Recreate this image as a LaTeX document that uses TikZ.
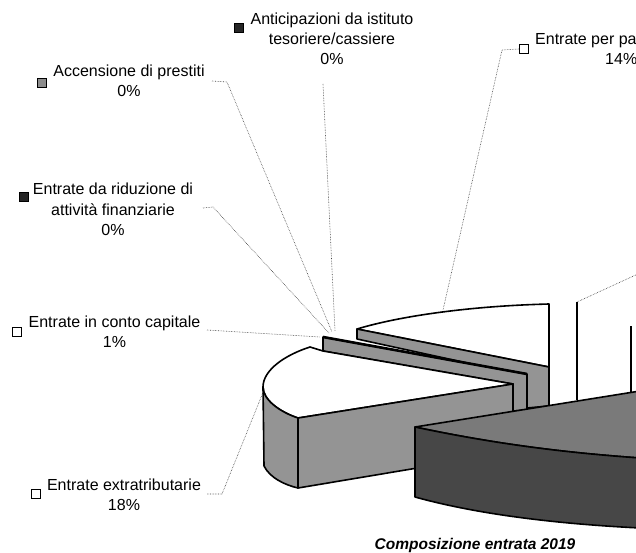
\documentclass[tikz,border=0pt]{standalone}
\usepackage{fontspec}
\setmainfont{Liberation Sans}
\begin{document}
\begin{tikzpicture}[x=1pt,y=-1pt,
  lbl/.style={align=center,anchor=base,inner sep=0pt,font=\fontsize{16}{20}\selectfont},
  mk/.style={draw=black,line width=1.2pt,minimum size=9pt,inner sep=0pt},
  leader/.style={densely dotted,line width=0.6pt,black!75},
  outl/.style={draw=black,line width=1.6pt,line join=round},
  lightface/.style={outl,fill=black!42},
  darkface/.style={outl,fill=black!72},
  midface/.style={outl,fill=black!52},
  topface/.style={outl,fill=white}]
\useasboundingbox (0,0) rectangle (636,553);

% ---------- labels (anchor = baseline of the last line) ----------
\node[lbl] (antic) at (332,65) {Anticipazioni da istituto\\tesoriere/cassiere\\0\%};
\node[lbl] (acc) at (129,97) {Accensione di prestiti\\0\%};
\node[lbl] (rid) at (113,235) {Entrate da riduzione di\\attività finanziarie\\0\%};
\node[lbl] (cap) at (114.5,347) {Entrate in conto capitale\\1\%};
\node[lbl] (extra) at (124,510) {Entrate extratributarie\\18\%};
\node[lbl,anchor=base west] (perpa) at (535,45) {Entrate per pa};
\node[lbl,anchor=base west] (perpapct) at (605,65) {14\%};
\node[anchor=base,inner sep=0pt,font=\fontsize{15.5}{18}\selectfont\bfseries\itshape] (title) at (475,549) {Composizione entrata 2019};

% ---------- legend markers ----------
\node[mk,fill=black!85] (m-antic) at (239,28) {};
\node[mk,fill=black!45] (m-acc) at (42,83) {};
\node[mk,fill=black!85] (m-rid) at (24,197) {};
\node[mk,fill=white] (m-cap) at (17,332) {};
\node[mk,fill=white] (m-extra) at (36,494) {};
\node[mk,fill=white] (m-perpa) at (524,49) {};

% ---------- leader lines ----------
\coordinate (antic-a) at (323,84);
\coordinate (antic-b) at (335,331);
\coordinate (acc-a) at (212,81);
\coordinate (acc-k) at (227,82);
\coordinate (acc-b) at (332,332);
\coordinate (rid-a) at (203,208);
\coordinate (rid-k) at (213,207);
\coordinate (rid-b) at (329,333);
\coordinate (cap-a) at (207,330);
\coordinate (cap-b) at (320,337);
\coordinate (extra-a) at (207,494);
\coordinate (extra-k) at (222,494);
\coordinate (extra-b) at (264,390);
\coordinate (perpa-k) at (502,50);
\coordinate (perpa-b) at (443,310);
\coordinate (right-a) at (577,302);
\coordinate (right-b) at (640,273);

\draw[leader] (antic-a) -- (antic-b);
\draw[leader] (acc-a) -- (acc-k) -- (acc-b);
\draw[leader] (rid-a) -- (rid-k) -- (rid-b);
\draw[leader] (cap-a) -- (cap-b);
\draw[leader] (extra-a) -- (extra-k) -- (extra-b);
\draw[leader] (m-perpa.west) -- (perpa-k) -- (perpa-b);
\draw[leader] (right-a) -- (right-b);

% ---------- pie slices ----------
\begin{scope}
\clip (0,0) rectangle (636,553);
% right white slice edges
\draw[outl] (577,302) -- (577,400);
\draw[outl] (631,326) -- (631,392);
% partite di giro: top and side
\draw[topface] (357,329) .. controls (400,316) and (470,306) .. (549,304) -- (549,367) -- cycle;
\draw[lightface] (357,329) -- (549,367) -- (549,406) -- (527,408) -- (527,376) -- (357,339) -- cycle;
% conto capitale (thin) with 0% slices on top
\draw[lightface] (323,337) -- (527,374) -- (527,410) -- (513,411) -- (513,384) -- (323,351) -- cycle;
\draw[line width=2.6pt] (323,337) -- (527,374);
% extratributarie
\draw[topface] (298,418) .. controls (280,412) and (263,400) .. (263,387) .. controls (263,370) and (285,355) .. (310,347) -- (323,351) -- (513,384) -- cycle;
\draw[lightface] (263,387) .. controls (263,400) and (280,412) .. (298,418) -- (298,488) .. controls (285,485) and (270,478) .. (264,466) -- cycle;
\draw[lightface] (298,418) -- (513,384) -- (513,452) -- (298,488) -- cycle;
% large dark slice
\draw[midface] (415,427) -- (640,391) -- (640,458) .. controls (570,453) and (500,445) .. (415,427) -- cycle;
\draw[darkface] (415,427) .. controls (500,445) and (570,453) .. (640,458) -- (640,528) .. controls (560,524) and (480,515) .. (415,497) -- cycle;
\end{scope}
\end{tikzpicture}
\end{document}
